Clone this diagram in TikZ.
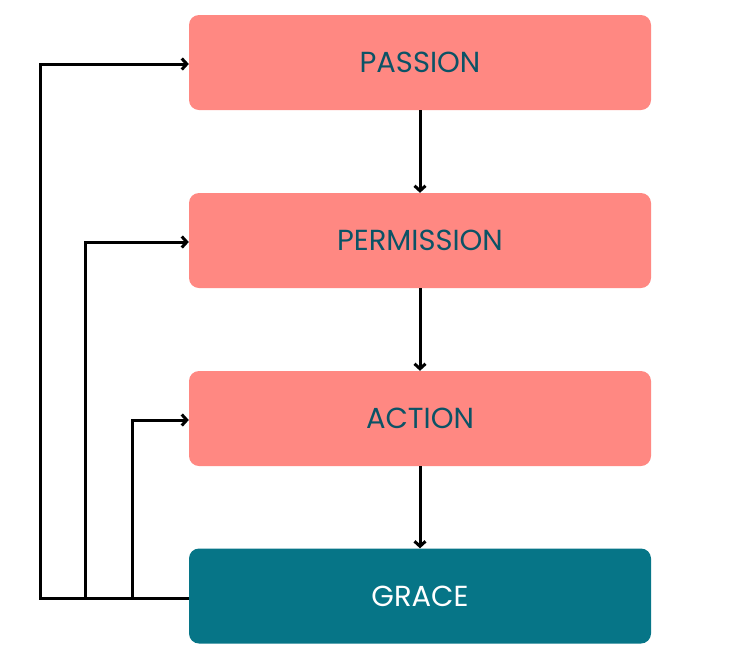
\documentclass[tikz,border=0pt]{standalone}
\usepackage{fontspec}
\setmainfont{Poppins}
\usetikzlibrary{arrows.meta}
\definecolor{salmon}{HTML}{FF8882}
\definecolor{tealbox}{HTML}{067587}
\definecolor{tealtext}{HTML}{0B5366}
\tikzset{
  stage/.style={rounded corners=10pt, minimum width=462pt, minimum height=95pt,
    fill=salmon, text=tealtext, font=\fontsize{29}{34}\selectfont},
  flow/.style={line width=3pt, -{Straight Barb[length=5pt,width=11pt]}},
}
\begin{document}
\begin{tikzpicture}[x=1pt,y=-1pt]
\useasboundingbox (0,0) rectangle (756,657);
\node[stage] (passion) at (420,62.5){PASSION};
\node[stage] (permission) at (420,240.5){PERMISSION};
\node[stage] (action) at (420,418.5){ACTION};
\node[stage,fill=tealbox,text=white] (grace) at (420,596){GRACE};
\draw[flow] (passion)--(permission);
\draw[flow] (permission)--(action);
\draw[flow] (action)--(grace);
% feedback from grace
\coordinate (b1) at (85,598);
\coordinate (b2) at (132,598);
\draw[flow] ([yshift=-2pt]grace.west)--(40,598)|-([yshift=-1.5pt]passion.west);
\draw[flow] (b1)|-([yshift=-1.5pt]permission.west);
\draw[flow] (b2)|-([yshift=-1.5pt]action.west);
\end{tikzpicture}
\end{document}
